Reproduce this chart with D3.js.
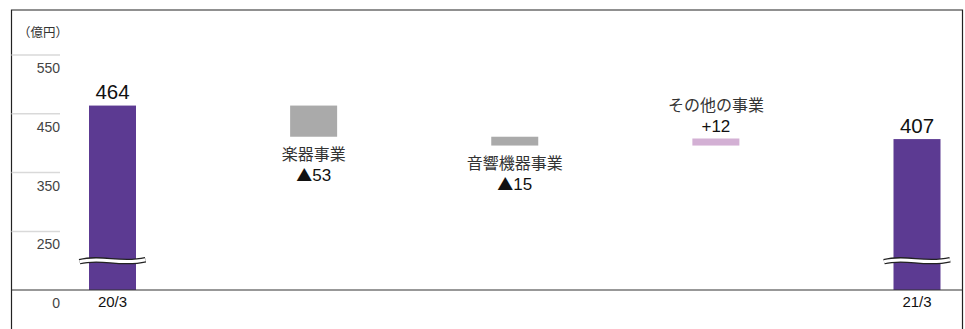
<!DOCTYPE html>
<html>
<head>
<meta charset="utf-8">
<script src="https://cdn.jsdelivr.net/npm/d3@7"></script>
<style>
  body { margin: 0; background: #fff; }
  svg { display: block; font-family: "Liberation Sans", Arial, "Noto Sans CJK JP", sans-serif; }
</style>
</head>
<body>
<svg width="965" height="329"></svg>
<script>
 // data
 const categories = ["20/3", "楽器事業", "音響機器事業", "その他の事業", "21/3"];
 const startValue = 464;
 const deltas = [-53, -15, 12];
 const endValue = 407;
 const deltaLabels = ["▲53", "▲15", "+12"];
 const yTicks = [550, 450, 350, 250];
 const unitLabel = "（億円）";

 const svg = d3.select("svg"),
   width = +svg.attr("width"),
   height = +svg.attr("height");

 const frame = {left: 11.5, right: 962.5, top: 10};
 const baseY = 290;
 const barW = 47;
 const purple = "#5c3a92";

 const x = d3.scalePoint()
   .domain(categories)
   .range([112.5, 917]);

 const y = d3.scaleLinear()
   .domain([250, 550])
   .range([231.4, 55]);

 const breakY = (y(250) + baseY) / 2;

 // waterfall steps
 let run = startValue;
 const steps = deltas.map((d, i) => {
   const from = run;
   run += d;
   return {cat: categories[i + 1], from, to: run, d, label: deltaLabels[i]};
 });

 // frame
 svg.append("path")
   .attr("d", `M${frame.left},${height} V${frame.top} H${frame.right} V${height}`)
   .attr("fill", "none")
   .attr("stroke", "#222")
   .attr("stroke-width", 1.2);

 // y gridlines + labels
 const yg = svg.append("g");
 yg.selectAll("line")
   .data(yTicks)
   .join("line")
     .attr("x1", frame.left)
     .attr("x2", 60)
     .attr("y1", d => y(d))
     .attr("y2", d => y(d))
     .attr("stroke", "#d9d9d9")
     .attr("stroke-width", 1.5);

 yg.selectAll("text")
   .data(yTicks.concat([0]))
   .join("text")
     .attr("x", 60)
     .attr("y", d => d === 0 ? 307.5 : y(d) + 18)
     .attr("text-anchor", "end")
     .attr("font-size", 14)
     .attr("fill", "#444")
     .text(d => d);

 svg.append("text")
   .attr("x", 18)
   .attr("y", 37)
   .attr("font-size", 12.5)
   .attr("fill", "#333")
   .text(unitLabel);

 // total bars
 const totals = [
   {cat: categories[0], v: startValue},
   {cat: categories[4], v: endValue}
 ];

 svg.append("g")
   .selectAll("rect")
   .data(totals)
   .join("rect")
     .attr("x", d => x(d.cat) - barW / 2)
     .attr("y", d => y(d.v))
     .attr("width", barW)
     .attr("height", d => baseY - y(d.v))
     .attr("fill", purple);

 svg.append("g")
   .selectAll("text")
   .data(totals)
   .join("text")
     .attr("x", d => x(d.cat))
     .attr("y", d => y(d.v) - 6.5)
     .attr("text-anchor", "middle")
     .attr("font-size", 20.5)
     .attr("fill", "#111")
     .text(d => d.v);

 // break marks
 const wave = (cx) => {
   const x0 = cx - 33, x1 = cx + 33;
   return `M${x0},${breakY + 1} C${x0 + 22},${breakY - 5} ${x1 - 26},${breakY + 5} ${x1},${breakY - 1}`;
 };
 const brk = svg.append("g").selectAll("g")
   .data(totals)
   .join("g");
 brk.append("path")
   .attr("d", d => wave(x(d.cat)))
   .attr("fill", "none")
   .attr("stroke", "#222")
   .attr("stroke-width", 5.5);
 brk.append("path")
   .attr("d", d => wave(x(d.cat)))
   .attr("fill", "none")
   .attr("stroke", "#fff")
   .attr("stroke-width", 3);

 // step boxes
 svg.append("g")
   .selectAll("rect")
   .data(steps)
   .join("rect")
     .attr("x", d => x(d.cat) - barW / 2)
     .attr("y", d => y(Math.max(d.from, d.to)))
     .attr("width", barW)
     .attr("height", d => Math.abs(y(d.from) - y(d.to)))
     .attr("fill", d => d.d < 0 ? "#aaaaaa" : "#d3b0d4");

 const lab = svg.append("g")
   .selectAll("g")
   .data(steps)
   .join("g")
     .attr("transform", d => `translate(${x(d.cat)},0)`)
     .attr("text-anchor", "middle")
     .attr("fill", "#222");

 lab.append("text")
   .attr("y", d => d.d < 0 ? y(Math.min(d.from, d.to)) + 23.5 : y(Math.max(d.from, d.to)) - 27)
   .attr("font-size", 16)
   .attr("fill", "#333")
   .text(d => d.cat);

 const val = lab.append("text")
   .attr("y", d => d.d < 0 ? y(Math.min(d.from, d.to)) + 44 : y(Math.max(d.from, d.to)) - 6)
   .attr("font-size", 17)
   .attr("fill", "#111");
 val.append("tspan")
   .attr("font-family", "'Noto Sans CJK JP'")
   .attr("font-size", 16)
   .text(d => d.label.startsWith("▲") ? "▲" : "");
 val.append("tspan")
   .text(d => d.label.startsWith("▲") ? d.label.slice(1) : d.label);

 // baseline
 svg.append("line")
   .attr("x1", frame.left)
   .attr("x2", frame.right)
   .attr("y1", baseY)
   .attr("y2", baseY)
   .attr("stroke", "#333")
   .attr("stroke-width", 1.2);

 // x labels for totals
 svg.append("g")
   .selectAll("text")
   .data(totals)
   .join("text")
     .attr("x", d => x(d.cat))
     .attr("y", 306.5)
     .attr("text-anchor", "middle")
     .attr("font-size", 15)
     .attr("fill", "#111")
     .text(d => d.cat);
</script>
</body>
</html>
